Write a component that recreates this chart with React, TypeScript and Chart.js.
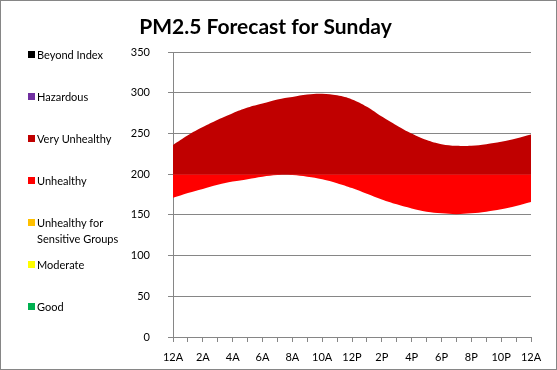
import React, { useEffect, useRef } from "react";
import { Chart, registerables } from "chart.js";

Chart.register(...registerables);

const TITLE = "PM2.5 Forecast for Sunday";

const HOUR_LABELS = [
  "12A", "1A", "2A", "3A", "4A", "5A", "6A", "7A", "8A", "9A", "10A", "11A",
  "12P", "1P", "2P", "3P", "4P", "5P", "6P", "7P", "8P", "9P", "10P", "11P", "12A",
];

// Upper bound of the forecast band (hourly)
const UPPER = [
  236, 248, 258, 267, 275, 282, 287, 292, 295, 298, 299, 297,
  292, 283, 271, 260, 250, 242, 237, 235, 235, 237, 240, 244, 249,
];

// Lower bound of the forecast band (hourly)
const LOWER = [
  171, 177, 182, 187, 191, 194, 197, 199, 199, 197, 194, 189,
  183, 176, 169, 163, 158, 154, 152, 151, 152, 154, 157, 161, 166,
];

// Boundary between "Unhealthy" and "Very Unhealthy"
const THRESHOLD = 200;

const Y_MIN = 0;
const Y_MAX = 350;
const Y_STEP = 50;

const LEGEND_LABELS = [
  "Beyond Index",
  "Hazardous",
  "Very Unhealthy",
  "Unhealthy",
  "Unhealthy for Sensitive Groups",
  "Moderate",
  "Good",
];
const LEGEND_COLORS = [
  "#000000",
  "#7030A0",
  "#C00000",
  "#FF0000",
  "#FFC000",
  "#FFFF00",
  "#00B050",
];

const FONT = "Lato, 'Open Sans', sans-serif";
const GRID = "#868686";
const W = 557;
const H = 370;

export default function App() {
  const ref = useRef<HTMLCanvasElement | null>(null);

  useEffect(() => {
    document.body.style.margin = "0";
    if (!ref.current) return;
    const chart = new Chart(ref.current, {
      type: "line",
      data: {
        labels: HOUR_LABELS,
        datasets: [
          {
            label: "Upper",
            data: UPPER,
            borderWidth: 0,
            borderColor: "rgba(0,0,0,0)",
            backgroundColor: "#C00000",
            pointRadius: 0,
            tension: 0.4,
            fill: { value: THRESHOLD },
          },
          {
            label: "Lower",
            data: LOWER,
            borderWidth: 0,
            borderColor: "rgba(0,0,0,0)",
            backgroundColor: "#FF0000",
            pointRadius: 0,
            tension: 0.4,
            fill: { value: THRESHOLD },
          },
        ],
      },
      options: {
        responsive: false,
        animation: false,
        layout: { padding: { left: 0, right: 26, top: 0, bottom: 0 } },
        plugins: {
          legend: { display: false },
          tooltip: { enabled: false },
          title: {
            display: true,
            text: TITLE,
            color: "#000",
            font: { family: FONT, size: 21, weight: "bold" },
            padding: { top: 15, bottom: 12 },
          },
        },
        scales: {
          x: {
            type: "category",
            offset: false,
            grid: {
              drawOnChartArea: false,
              drawTicks: true,
              tickLength: 5,
              color: GRID,
              offset: false,
            },
            border: { color: GRID },
            ticks: {
              autoSkip: false,
              maxRotation: 0,
              minRotation: 0,
              padding: 9,
              color: "#000",
              font: { family: FONT, size: 11 },
              callback: (_v: any, i: number) => (i % 2 === 0 ? HOUR_LABELS[i] : ""),
            },
            afterFit: (s: any) => {
              s.height = 33;
            },
          },
          y: {
            min: Y_MIN,
            max: Y_MAX,
            ticks: {
              stepSize: Y_STEP,
              padding: 18,
              color: "#000",
              font: { family: FONT, size: 11 },
            },
            grid: { color: GRID, tickLength: 5 },
            border: { color: GRID },
            afterFit: (s: any) => {
              s.width = 173;
            },
          },
        },
      },
    } as any);
    return () => chart.destroy();
  }, []);

  const centers = [55, 97, 139, 181, 223, 265, 307];

  return (
    <div style={{ position: "relative", width: W, height: H, background: "#fff" }}>
      <canvas
        ref={ref}
        width={W}
        height={H}
        style={{ position: "absolute", left: 0, top: 0, width: W, height: H }}
      />
      {LEGEND_LABELS.map((lab, i) => (
        <div
          key={lab}
          style={{
            position: "absolute",
            left: 28,
            top: centers[i] - 8,
            fontFamily: FONT,
            fontSize: 11,
            lineHeight: "16px",
            color: "#000",
          }}
        >
          <span
            style={{
              position: "absolute",
              left: 0,
              top: 4,
              width: 7,
              height: 7,
              background: LEGEND_COLORS[i],
            }}
          />
          <div style={{ marginLeft: 9, width: 95 }}>{lab}</div>
        </div>
      ))}
      <div
        style={{
          position: "absolute",
          left: 0,
          top: 0,
          width: W,
          height: H,
          boxSizing: "border-box",
          border: "1px solid #868686",
          pointerEvents: "none",
        }}
      />
    </div>
  );
}
